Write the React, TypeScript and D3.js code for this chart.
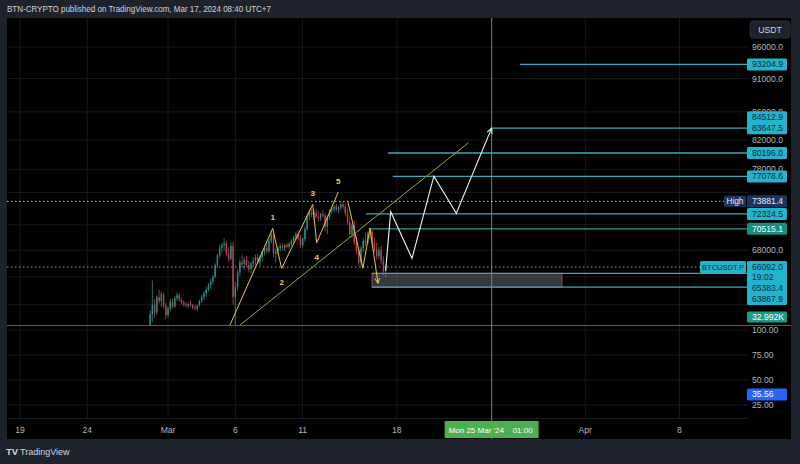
import React from "react";
import * as d3 from "d3";

// ---------- DATA ----------
const headerText = "BTN-CRYPTO published on TradingView.com, Mar 17, 2024 08:40 UTC+7";
const quoteCurrency = "USDT";
const symbolName = "BTCUSDT.P";

// 4h candles, [open, high, low, close] in thousands of USDT, from Feb 28 16:00 UTC
const candleStartUTC = Date.UTC(2024, 1, 28, 16);
const candleStepHours = 4;
const candles: number[][] = [
  [59.2, 61.4, 58.5, 61.0], [61.0, 64.6, 60.2, 62.0], [62.0, 62.6, 60.6, 61.2], [61.2, 63.0, 60.9, 62.8],
  [62.8, 63.6, 62.1, 62.4], [62.4, 63.4, 61.8, 63.1], [63.1, 63.3, 61.6, 61.9], [61.9, 62.2, 60.5, 60.9],
  [60.9, 61.8, 60.7, 61.6], [61.6, 62.6, 61.3, 62.3], [62.3, 62.6, 61.6, 61.8], [61.8, 62.9, 61.7, 62.7],
  [62.7, 63.3, 62.4, 63.0], [63.0, 63.2, 62.3, 62.5], [62.5, 62.8, 62.0, 62.2], [62.2, 62.5, 61.8, 62.0],
  [62.0, 62.3, 61.7, 61.9], [61.9, 62.2, 61.6, 62.1], [62.1, 62.4, 61.8, 61.9], [61.9, 62.1, 61.5, 61.7],
  [61.7, 62.0, 61.4, 61.6], [61.6, 62.0, 61.3, 61.9], [61.9, 62.5, 61.8, 62.4], [62.4, 63.0, 62.2, 62.8],
  [62.8, 63.4, 62.5, 63.2], [63.2, 63.9, 62.9, 63.6], [63.6, 64.3, 63.4, 64.1], [64.1, 64.8, 63.7, 64.5],
  [64.5, 65.2, 64.2, 65.0], [65.0, 66.5, 64.8, 66.3], [66.3, 67.6, 66.0, 67.4], [67.4, 68.6, 67.1, 68.3],
  [68.3, 68.9, 67.7, 68.6], [68.6, 69.4, 68.0, 68.8], [68.8, 69.1, 67.3, 67.6], [67.6, 68.3, 66.7, 67.0],
  [67.0, 68.9, 66.8, 68.5], [68.5, 69.0, 62.0, 62.8], [62.8, 64.4, 59.7, 63.9], [63.9, 65.8, 63.5, 65.5],
  [65.5, 66.9, 65.1, 66.6], [66.6, 67.5, 66.0, 66.4], [66.4, 67.2, 65.8, 66.9], [66.9, 67.4, 66.1, 66.3],
  [66.3, 66.8, 65.5, 65.9], [65.9, 66.7, 65.4, 66.5], [66.5, 67.2, 66.1, 66.8], [66.8, 67.5, 66.3, 67.2],
  [67.2, 67.6, 66.4, 66.6], [66.6, 67.4, 66.2, 67.1], [67.1, 68.0, 66.8, 67.8], [67.8, 68.6, 67.4, 68.3],
  [68.3, 69.0, 67.6, 67.9], [67.9, 69.4, 67.7, 69.1], [69.1, 70.3, 68.8, 69.8], [69.8, 70.1, 67.2, 67.6],
  [67.6, 68.2, 66.6, 67.9], [67.9, 68.5, 67.5, 68.2], [68.2, 68.8, 67.9, 68.5], [68.5, 68.8, 68.0, 68.3],
  [68.3, 68.7, 67.9, 68.6], [68.6, 68.9, 68.2, 68.4], [68.4, 69.0, 68.1, 68.8], [68.8, 69.3, 68.5, 69.1],
  [69.1, 69.7, 68.8, 69.5], [69.5, 70.2, 69.2, 69.9], [69.9, 70.4, 69.1, 69.4], [69.4, 69.8, 68.3, 68.6],
  [68.6, 69.5, 68.4, 69.3], [69.3, 70.8, 69.0, 70.5], [70.5, 72.4, 70.3, 72.0], [72.0, 72.9, 71.5, 72.6],
  [72.6, 73.0, 71.9, 72.2], [72.2, 72.8, 71.6, 72.5], [72.5, 72.9, 71.8, 72.0], [72.0, 72.6, 71.4, 71.8],
  [71.8, 72.5, 71.5, 72.3], [72.3, 72.8, 71.9, 72.1], [72.1, 72.4, 70.2, 70.8], [70.8, 72.2, 69.9, 71.9],
  [71.9, 72.9, 71.6, 72.7], [72.7, 73.2, 72.3, 72.9], [72.9, 73.4, 72.5, 73.2], [73.2, 73.6, 72.6, 72.8],
  [72.8, 73.3, 72.4, 73.1], [73.1, 73.88, 72.8, 73.5], [73.5, 73.8, 72.9, 73.2], [73.2, 73.6, 72.1, 72.4],
  [72.4, 73.0, 71.0, 71.3], [71.3, 72.0, 69.5, 69.9], [69.9, 71.2, 69.4, 70.9], [70.9, 71.5, 68.6, 68.9],
  [68.9, 69.6, 67.5, 67.9], [67.9, 68.4, 66.2, 66.6], [66.6, 68.5, 66.1, 68.2], [68.2, 69.4, 67.8, 69.1],
  [69.1, 70.0, 68.5, 68.9], [68.9, 70.2, 68.7, 69.9], [69.9, 70.6, 69.3, 70.2], [70.2, 70.4, 68.6, 68.9],
  [68.9, 69.5, 67.8, 68.1], [68.1, 68.9, 66.9, 67.3], [67.3, 68.4, 67.0, 68.0], [68.0, 68.5, 66.4, 66.8],
  [66.8, 67.3, 65.2, 65.6], [65.6, 66.4, 65.0, 66.09],
];

// price grid levels; labels shown only where the reference shows them
const priceTicks = [96000, 91000, 86000, 82000, 78000, 75000, 71000, 68000, 65000, 62000];
const priceTickLabels = [96000, 91000, 86000, 82000, 78000, 68000];
const rsiTicks = [100, 75, 50, 25];
const timeTicks: [string, string][] = [
  ["2024-02-19", "19"], ["2024-02-24", "24"], ["2024-03-01", "Mar"], ["2024-03-06", "6"],
  ["2024-03-11", "11"], ["2024-03-18", "18"], ["2024-04-01", "Apr"], ["2024-04-08", "8"],
];

// horizontal levels: [price, start time]
const levelPrices = [93204.9, 83647.5, 80196.0, 77078.6, 72324.5, 70515.1, 65383.4, 63867.9];
const levelStarts = [
  "2024-03-27T03:30Z", "2024-03-25T01:00Z", "2024-03-17T08:00Z", "2024-03-17T17:00Z",
  "2024-03-15T17:00Z", "2024-03-16T00:00Z", "2024-03-16T03:40Z", "2024-03-16T03:40Z",
];
const targetLabel = 84512.9;
const zoneStart = "2024-03-16T03:40Z";
const zoneEnd = "2024-03-30T06:30Z";
const zoneTop = 65383.4;
const zoneBottom = 63867.9;

const highPrice = 73881.4;
const lastPrice = 66092.0;
const countdown = "19:02";
const volumeLabel = "32.992K";
const rsiValue = 35.56;
const cursorTime = "2024-03-25T01:00Z";
const cursorDate = "Mon 25 Mar '24";
const cursorClock = "01:00";

// Elliott wave count 1-5
const waveTimes = ["2024-03-05T14:24Z", "2024-03-08T18:40Z", "2024-03-09T10:30Z", "2024-03-11T18:00Z", "2024-03-12T01:00Z", "2024-03-13T15:40Z"];
const wavePrices = [59900, 70570, 65930, 73500, 68860, 75090];
const waveLabels = ["", "1", "2", "3", "4", "5"];
// corrective zigzag with arrow
const corrTimes = ["2024-03-14T08:50Z", "2024-03-15T11:30Z", "2024-03-16T00:00Z", "2024-03-16T14:20Z"];
const corrPrices = [73790, 65960, 70600, 64310];
// projected path
const projTimes = ["2024-03-17T04:00Z", "2024-03-17T13:00Z", "2024-03-19T03:00Z", "2024-03-20T18:00Z", "2024-03-22T10:00Z", "2024-03-25T01:00Z"];
const projPrices = [65700, 72600, 67070, 77100, 72400, 83650];
// trendline
const trendTimes = ["2024-03-06T08:20Z", "2024-03-23T07:30Z"];
const trendPrices = [59900, 81600];

// ---------- LAYOUT ----------
const W = 800, H = 464;
const panelL = 7, panelR = 791, panelT = 18, panelB = 439;
const plotR = 748;
const mainTop = 18, mainBot = 325;
const rsiBot = 418;

const FONT = "'Liberation Sans', Arial, sans-serif";
const AXIS_TXT = "#b2b5be";
const CYAN = "#22b4cc";
const CYAN_LINE = "#3ca7b8";
const DARK = "#0e2c36";

export default function App() {
  const x = d3.scaleUtc()
    .domain([new Date(Date.UTC(2024, 1, 19)), new Date(Date.UTC(2024, 3, 8))])
    .range([20, 679.5]);
  const y = d3.scaleLog().domain([59900, 96000]).range([325, 47]);
  const yr = d3.scaleLinear().domain([25, 100]).range([405, 330]);

  const cData = candles.map((c, i) => ({
    t: new Date(candleStartUTC + i * candleStepHours * 3600e3),
    o: c[0] * 1000, h: c[1] * 1000, l: c[2] * 1000, c: c[3] * 1000,
  }));

  const line = d3.line<[Date, number]>().x((d) => x(d[0])).y((d) => y(d[1]));
  const wavePts: [Date, number][] = waveTimes.map((t, i) => [new Date(t), wavePrices[i]]);
  const corrPts: [Date, number][] = corrTimes.map((t, i) => [new Date(t), corrPrices[i]]);
  const projPts: [Date, number][] = projTimes.map((t, i) => [new Date(t), projPrices[i]]);
  const trendPts: [Date, number][] = trendTimes.map((t, i) => [new Date(t), trendPrices[i]]);

  const label = (yc: number, text: string, bg: string, fg: string, key: string, h = 12) => (
    <g key={key}>
      <rect x={747} y={yc - h / 2} width={40} height={h} rx={1.5} fill={bg} />
      <text x={752} y={yc + 3} fontSize={8.6} fill={fg} fontFamily={FONT}>{text}</text>
    </g>
  );

  const cw = 1.4;
  const cursorX = x(new Date(cursorTime));

  return (
    <svg width={W} height={H} style={{ position: "absolute", left: 0, top: 0, display: "block" }}>
      <defs>
        <clipPath id="mainClip"><rect x={panelL} y={mainTop} width={plotR - panelL} height={mainBot - mainTop} /></clipPath>
        <marker id="arrowW" viewBox="0 0 10 10" refX="9" refY="5" markerWidth="6" markerHeight="6" orient="auto-start-reverse">
          <path d="M1,1 L9,5 L1,9" fill="none" stroke="#e8f6f8" strokeWidth={1.6} />
        </marker>
        <marker id="arrowY" viewBox="0 0 10 10" refX="9" refY="5" markerWidth="6" markerHeight="6" orient="auto-start-reverse">
          <path d="M1,1 L9,5 L1,9" fill="none" stroke="#f0c93a" strokeWidth={1.6} />
        </marker>
      </defs>
      <rect x={0} y={0} width={W} height={H} fill="#1e222d" />
      <text x={7} y={12} fontSize={8.6} fill="#d1d4dc" fontFamily={FONT} textLength={264} lengthAdjust="spacingAndGlyphs">{headerText}</text>
      <rect x={panelL} y={panelT} width={panelR - panelL} height={panelB - panelT} fill="#000" />

      {/* grid */}
      {timeTicks.map(([d]) => (
        <line key={"vg" + d} x1={x(new Date(d + "T00:00Z"))} x2={x(new Date(d + "T00:00Z"))} y1={panelT} y2={rsiBot} stroke="#17191e" strokeWidth={1} />
      ))}
      {priceTicks.map((p) => (
        <line key={"hg" + p} x1={panelL} x2={plotR} y1={y(p)} y2={y(p)} stroke="#17191e" strokeWidth={1} />
      ))}
      {rsiTicks.map((v) => (
        <line key={"rg" + v} x1={panelL} x2={plotR} y1={yr(v)} y2={yr(v)} stroke="#17191e" strokeWidth={1} />
      ))}

      {/* separators */}
      <line x1={panelL} x2={panelR} y1={mainBot + 0.5} y2={mainBot + 0.5} stroke="#5a5d66" strokeWidth={1} />
      <line x1={panelL} x2={plotR} y1={rsiBot + 0.5} y2={rsiBot + 0.5} stroke="#1b1d22" strokeWidth={1} />

      {/* cursor vertical line */}
      <line x1={cursorX} x2={cursorX} y1={panelT} y2={panelB} stroke="#4f9f4f" strokeWidth={1} />

      <g clipPath="url(#mainClip)">
        {/* zone */}
        <rect x={x(new Date(zoneStart))} y={y(zoneTop)} width={x(new Date(zoneEnd)) - x(new Date(zoneStart))}
          height={y(zoneBottom) - y(zoneTop)} fill="rgba(120,123,134,0.45)" stroke="rgba(200,70,110,0.8)" strokeWidth={1} />
        {/* levels */}
        {levelPrices.map((p, i) => (
          <line key={"lv" + i} x1={x(new Date(levelStarts[i]))} x2={plotR} y1={y(p)} y2={y(p)}
            stroke={i === 5 ? "#2f9d8f" : CYAN_LINE} strokeWidth={1.3} />
        ))}
        {/* dotted lines */}
        <line x1={panelL} x2={724} y1={y(highPrice)} y2={y(highPrice)} stroke="#c8cbd3" strokeWidth={1} strokeDasharray="1.5,2.5" />
        <line x1={panelL} x2={700} y1={y(lastPrice)} y2={y(lastPrice)} stroke="#9aa0aa" strokeWidth={1} strokeDasharray="1.5,2.5" />

        {/* candles */}
        {cData.map((d, i) => {
          const up = d.c >= d.o;
          const col = up ? "#26a69a" : "#d9485f";
          const cx = x(d.t);
          const yt = y(Math.max(d.o, d.c));
          const yb = y(Math.min(d.o, d.c));
          return (
            <g key={"c" + i} opacity={0.9}>
              <line x1={cx} x2={cx} y1={y(d.h)} y2={y(d.l)} stroke={col} strokeWidth={0.8} />
              <rect x={cx - cw / 2} y={yt} width={cw} height={Math.max(0.8, yb - yt)} fill={col} />
            </g>
          );
        })}

        {/* trendline */}
        <path d={line(trendPts) || ""} fill="none" stroke="#7cb342" strokeWidth={1} />
        {/* Elliott wave */}
        <path d={line(wavePts) || ""} fill="none" stroke="#e6c83c" strokeWidth={1} />
        {wavePts.map((p, i) => i === 0 ? null : (
          <text key={"wl" + i} x={x(p[0])} y={y(p[1]) + (i % 2 === 1 ? -8 : 17)} fontSize={8} fontWeight="bold"
            fill="#efd24a" textAnchor="middle" fontFamily={FONT}>{waveLabels[i]}</text>
        ))}
        <path d={line(corrPts) || ""} fill="none" stroke="#e6c83c" strokeWidth={1} markerEnd="url(#arrowY)" />
        {/* projection */}
        <path d={line(projPts) || ""} fill="none" stroke="#f2f2f2" strokeWidth={1.1} markerEnd="url(#arrowW)" />
      </g>

      {/* right axis: USDT */}
      <rect x={750} y={21} width={40} height={17} rx={3} fill="#1e222d" stroke="#2a2e39" />
      <text x={770} y={32.5} fontSize={8.6} fill="#d1d4dc" textAnchor="middle" fontFamily={FONT}>{quoteCurrency}</text>

      {priceTickLabels.map((p) => (
        <text key={"pt" + p} x={752} y={y(p) + 3} fontSize={8.6} fill={AXIS_TXT} fontFamily={FONT}>{p.toFixed(1)}</text>
      ))}
      {rsiTicks.map((v) => (
        <text key={"rt" + v} x={752} y={yr(v) + 3} fontSize={8.6} fill={AXIS_TXT} fontFamily={FONT}>{v.toFixed(2)}</text>
      ))}

      {label(y(levelPrices[0]), levelPrices[0].toFixed(1), CYAN, DARK, "l0")}
      {label(y(levelPrices[1]) - 11, targetLabel.toFixed(1), CYAN, DARK, "l1a")}
      {label(y(levelPrices[1]), levelPrices[1].toFixed(1), CYAN, DARK, "l1")}
      {label(y(levelPrices[2]), levelPrices[2].toFixed(1), CYAN, DARK, "l2")}
      {label(y(levelPrices[3]), levelPrices[3].toFixed(1), CYAN, DARK, "l3")}
      {/* High */}
      <rect x={724} y={y(highPrice) - 5.5} width={22} height={11} rx={1.5} fill="#1c3460" />
      <text x={735} y={y(highPrice) + 3} fontSize={8.2} fill="#e8ecf5" textAnchor="middle" fontFamily={FONT}>High</text>
      {label(y(highPrice), highPrice.toFixed(1), "#1c3460", "#e8ecf5", "hi")}
      {label(y(levelPrices[4]), levelPrices[4].toFixed(1), CYAN, DARK, "l4")}
      {label(y(levelPrices[5]), levelPrices[5].toFixed(1), "#13907f", "#ffffff", "l5")}
      {/* last price block */}
      <rect x={700} y={y(lastPrice) - 6} width={46} height={12} rx={1.5} fill={CYAN} />
      <text x={723} y={y(lastPrice) + 3} fontSize={8} fill={DARK} textAnchor="middle" fontFamily={FONT}
        textLength={42} lengthAdjust="spacingAndGlyphs">{symbolName}</text>
      <rect x={747} y={y(lastPrice) - 6} width={40} height={44} rx={1.5} fill={CYAN} />
      <text x={752} y={y(lastPrice) + 3} fontSize={8.6} fill={DARK} fontFamily={FONT}>{lastPrice.toFixed(1)}</text>
      <text x={752} y={y(lastPrice) + 13} fontSize={8.6} fill={DARK} fontFamily={FONT}>{countdown}</text>
      <text x={752} y={y(lastPrice) + 24} fontSize={8.6} fill={DARK} fontFamily={FONT}>{levelPrices[6].toFixed(1)}</text>
      <text x={752} y={y(lastPrice) + 35} fontSize={8.6} fill={DARK} fontFamily={FONT}>{levelPrices[7].toFixed(1)}</text>
      {label(317, volumeLabel, "#1f9a86", "#ffffff", "vol", 11)}
      {label(yr(rsiValue), rsiValue.toFixed(2), "#2962ff", "#ffffff", "rsi")}

      {/* time axis */}
      {timeTicks.map(([d, t]) => (
        <text key={"tt" + d} x={x(new Date(d + "T00:00Z"))} y={433} fontSize={8.6} fill={AXIS_TXT}
          textAnchor="middle" fontFamily={FONT}>{t}</text>
      ))}
      <rect x={cursorX - 47} y={421} width={94} height={17} fill="#4caf50" />
      <text x={cursorX - 43} y={433} fontSize={8} fill="#ffffff" fontFamily={FONT}>{cursorDate}</text>
      <text x={cursorX + 21} y={433} fontSize={8} fill="#ffffff" fontFamily={FONT}>{cursorClock}</text>

      {/* logo */}
      <text x={6} y={455} fontSize={9.5} fontWeight="bold" fill="#d1d4dc" fontFamily={FONT}>TV</text>
      <text x={20} y={455} fontSize={9} fill="#d1d4dc" fontFamily={FONT}>TradingView</text>
    </svg>
  );
}
